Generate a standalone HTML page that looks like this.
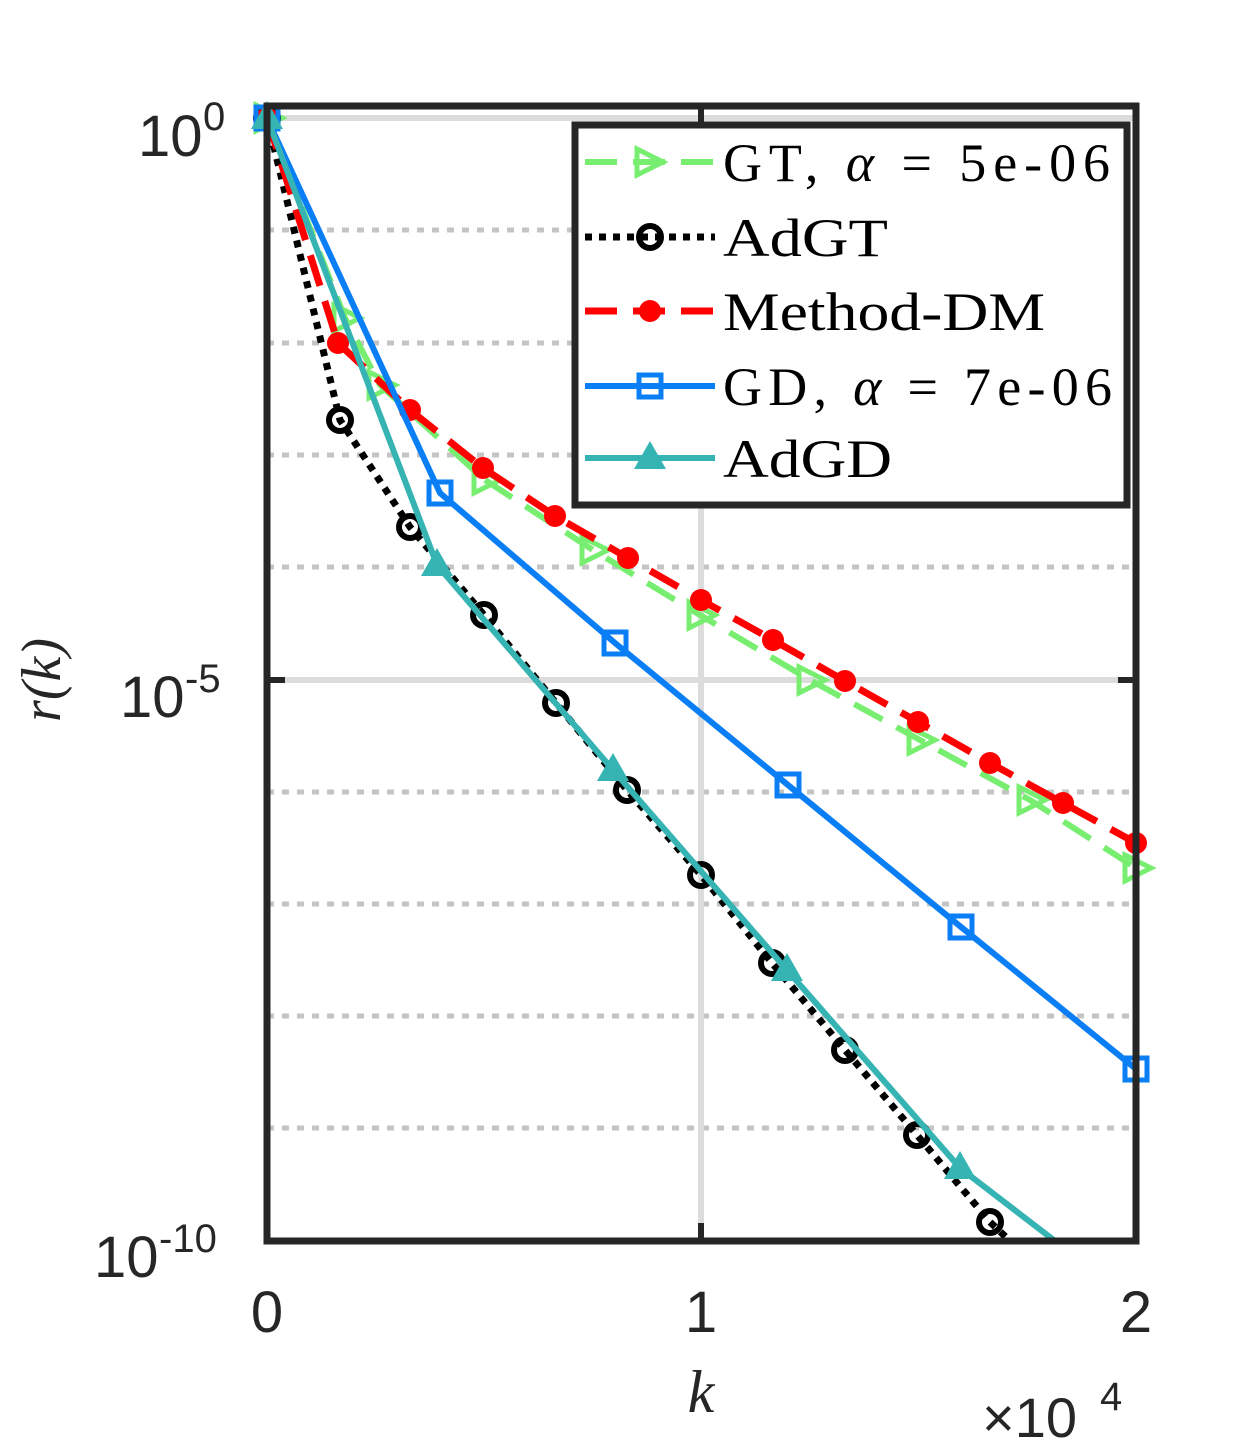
<!DOCTYPE html>
<html><head><style>body{margin:0;background:#fff}svg{display:block}</style></head><body>
<svg width="1254" height="1454" viewBox="0 0 1254 1454" xmlns="http://www.w3.org/2000/svg">
<rect width="1254" height="1454" fill="#fff"/>
<g stroke="#c4c4c4" stroke-width="5" stroke-dasharray="7,8" fill="none">
<line x1="267" y1="230" x2="1136" y2="230"/><line x1="267" y1="343" x2="1136" y2="343"/>
<line x1="267" y1="455" x2="1136" y2="455"/><line x1="267" y1="567" x2="1136" y2="567"/>
<line x1="267" y1="792" x2="1136" y2="792"/><line x1="267" y1="904" x2="1136" y2="904"/>
<line x1="267" y1="1016" x2="1136" y2="1016"/><line x1="267" y1="1128" x2="1136" y2="1128"/>
</g>
<g stroke="#dcdcdc" stroke-width="6" fill="none">
<line x1="267" y1="118" x2="1136" y2="118"/><line x1="267" y1="680" x2="1136" y2="680"/>
<line x1="701" y1="106" x2="701" y2="1241"/>
</g>
<polyline fill="none" stroke="#78ee70" stroke-width="6" stroke-dasharray="32,16" points="267,118 345,318 380,385 485,480 593,550 700,615 810,680 920,740 1030,800 1136,868"/>
<g fill="none" stroke="#78ee70" stroke-width="5">
<path d="M256,105 L282,118 L256,131Z"/><path d="M334,305 L360,318 L334,331Z"/><path d="M369,372 L395,385 L369,398Z"/><path d="M474,467 L500,480 L474,493Z"/><path d="M582,537 L608,550 L582,563Z"/><path d="M689,602 L715,615 L689,628Z"/><path d="M799,667 L825,680 L799,693Z"/><path d="M909,727 L935,740 L909,753Z"/><path d="M1019,787 L1045,800 L1019,813Z"/><path d="M1125,855 L1151,868 L1125,881Z"/>
</g>
<polyline fill="none" stroke="#000" stroke-width="7" stroke-dasharray="7,7" points="267,118 340,420 410,527 484,615 556,703 627,790 701,875 772,963 845,1050 917,1135 990,1222 1010,1241"/>
<g fill="none" stroke="#000" stroke-width="6">
<circle cx="267" cy="118" r="11"/><circle cx="340" cy="420" r="11"/><circle cx="410" cy="527" r="11"/><circle cx="484" cy="615" r="11"/><circle cx="556" cy="703" r="11"/><circle cx="627" cy="790" r="11"/><circle cx="701" cy="875" r="11"/><circle cx="772" cy="963" r="11"/><circle cx="845" cy="1050" r="11"/><circle cx="917" cy="1135" r="11"/><circle cx="990" cy="1222" r="11"/>
</g>
<polyline fill="none" stroke="#f00" stroke-width="7" stroke-dasharray="32,16" points="267,118 338,343 410,410 483,468 555,516 628,558 701,600 773,640 845,681 918,722 990,763 1063,803 1136,843"/>
<g fill="#f00">
<circle cx="267" cy="118" r="11"/><circle cx="338" cy="343" r="11"/><circle cx="410" cy="410" r="11"/><circle cx="483" cy="468" r="11"/><circle cx="555" cy="516" r="11"/><circle cx="628" cy="558" r="11"/><circle cx="701" cy="600" r="11"/><circle cx="773" cy="640" r="11"/><circle cx="845" cy="681" r="11"/><circle cx="918" cy="722" r="11"/><circle cx="990" cy="763" r="11"/><circle cx="1063" cy="803" r="11"/><circle cx="1136" cy="843" r="11"/>
</g>
<polyline fill="none" stroke="#0a7ff5" stroke-width="6" points="267,118 440,493 615,643 788,785 961,927 1136,1069"/>
<g fill="none" stroke="#0a7ff5" stroke-width="5">
<rect x="256" y="107" width="22" height="22"/><rect x="429" y="482" width="22" height="22"/><rect x="604" y="632" width="22" height="22"/><rect x="777" y="774" width="22" height="22"/><rect x="950" y="916" width="22" height="22"/><rect x="1125" y="1058" width="22" height="22"/>
</g>
<polyline fill="none" stroke="#36b3b3" stroke-width="6" points="267,118 437,565 613,770 787,970 960,1168 1055,1241"/>
<g fill="#36b3b3">
<path d="M267,101 L283,129 L251,129Z"/><path d="M437,548 L453,576 L421,576Z"/><path d="M613,753 L629,781 L597,781Z"/><path d="M787,953 L803,981 L771,981Z"/><path d="M960,1151 L976,1179 L944,1179Z"/>
</g>
<rect x="267" y="106" width="869" height="1135" fill="none" stroke="#262626" stroke-width="7"/>
<g stroke="#262626" stroke-width="6">
<line x1="267" y1="680" x2="285" y2="680"/><line x1="1136" y1="680" x2="1118" y2="680"/>
<line x1="701" y1="1241" x2="701" y2="1223"/><line x1="701" y1="106" x2="701" y2="124"/>
</g>
<g font-family="Liberation Sans, sans-serif" fill="#262626">
<text x="138" y="156" font-size="58">10</text><text x="203" y="130" font-size="40">0</text>
<text x="120" y="717" font-size="58">10</text><text x="185" y="692" font-size="40">-5</text>
<text x="94" y="1277" font-size="58">10</text><text x="159" y="1252" font-size="40">-10</text>
<text x="267" y="1332" font-size="58" text-anchor="middle">0</text>
<text x="701" y="1332" font-size="58" text-anchor="middle">1</text>
<text x="1136" y="1332" font-size="58" text-anchor="middle">2</text>
<text x="982" y="1437" font-size="56">×10</text><text x="1100" y="1410" font-size="40">4</text>
</g>
<text x="701" y="1412" font-family="Liberation Serif, serif" font-style="italic" font-size="60" fill="#262626" text-anchor="middle">k</text>
<text transform="translate(60,680) rotate(-90)" font-family="Liberation Serif, serif" font-style="italic" font-size="56" fill="#262626" text-anchor="middle">r(k)</text>
<rect x="575" y="125" width="552" height="380" fill="#fff" stroke="#262626" stroke-width="7"/>
<g font-family="Liberation Serif, serif" font-size="54" fill="#000">
<line x1="585" y1="162" x2="715" y2="162" stroke="#78ee70" stroke-width="6" stroke-dasharray="32,16"/>
<path d="M637,149 L663,162 L637,175Z" fill="none" stroke="#78ee70" stroke-width="5"/>
<text x="723" y="181" textLength="387" lengthAdjust="spacing">GT, <tspan font-style="italic">α</tspan> = 5e-06</text>
<line x1="585" y1="237" x2="715" y2="237" stroke="#000" stroke-width="7" stroke-dasharray="7,7"/>
<circle cx="650" cy="237" r="11" fill="none" stroke="#000" stroke-width="6"/>
<text x="723" y="256" textLength="165" lengthAdjust="spacingAndGlyphs">AdGT</text>
<line x1="585" y1="311" x2="715" y2="311" stroke="#f00" stroke-width="7" stroke-dasharray="32,16"/>
<circle cx="650" cy="311" r="11" fill="#f00"/>
<text x="723" y="330" textLength="322" lengthAdjust="spacingAndGlyphs">Method-DM</text>
<line x1="585" y1="386" x2="715" y2="386" stroke="#0a7ff5" stroke-width="6"/>
<rect x="639" y="375" width="22" height="22" fill="none" stroke="#0a7ff5" stroke-width="5"/>
<text x="723" y="405" textLength="389" lengthAdjust="spacing">GD, <tspan font-style="italic">α</tspan> = 7e-06</text>
<line x1="585" y1="458" x2="715" y2="458" stroke="#36b3b3" stroke-width="6"/>
<path d="M650,441 L666,469 L634,469Z" fill="#36b3b3"/>
<text x="723" y="477" textLength="169" lengthAdjust="spacingAndGlyphs">AdGD</text>
</g>
</svg>
</body></html>
